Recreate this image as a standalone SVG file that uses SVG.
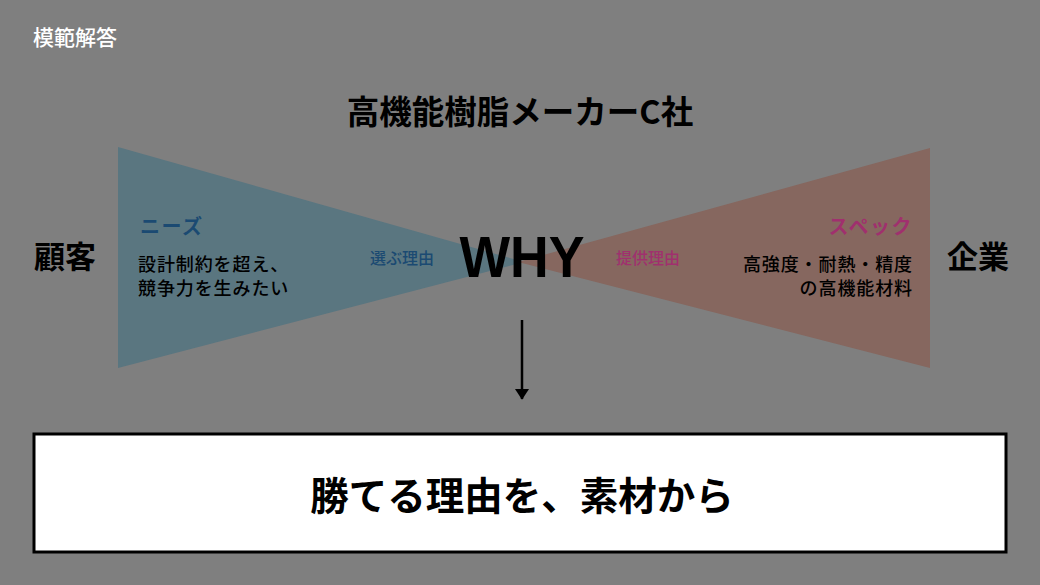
<svg xmlns="http://www.w3.org/2000/svg" width="1040" height="585" viewBox="0 0 1040 585">
<defs>
<style>
.jp{font-family:"Noto Sans CJK JP","Noto Sans",sans-serif;}
.b{font-weight:bold;}
.blk{fill:#000;}
</style>
<marker id="ah" markerWidth="18" markerHeight="14" refX="13" refY="9" orient="auto" markerUnits="userSpaceOnUse" viewBox="0 0 14 18">
<path d="M0,0 L14,9 L0,18 z" fill="#000"/>
</marker>
</defs>
<rect x="0" y="0" width="1040" height="585" fill="#7f7f7f"/>
<text class="jp" x="33" y="45" font-size="21" font-weight="500" fill="#fff">模範解答</text>
<text class="jp b blk" x="520" y="124" font-size="32.5" text-anchor="middle">高機能樹脂メーカーC社</text>
<g id="customer-wedge">
<polygon points="118,147 118,368 524,262" fill="#5a7680"/>
<text class="jp b" x="140" y="234" font-size="20" letter-spacing="1.5" fill="#1b4a72">ニーズ</text>
<text class="jp blk" font-size="18" letter-spacing="0.9" font-weight="500"><tspan x="138" y="271">設計制約を超え、</tspan><tspan x="138" y="295">競争力を生みたい</tspan></text>
<text class="jp" x="402" y="264" font-size="16" font-weight="500" fill="#1b4a72" text-anchor="middle">選ぶ理由</text>
</g>
<g id="company-wedge">
<polygon points="930,148 930,368 518,262" fill="#86675f"/>
<text class="jp b" x="913" y="234" font-size="20" letter-spacing="1.5" fill="#a0306e" text-anchor="end">スペック</text>
<text class="jp blk" font-size="18" letter-spacing="0.9" font-weight="500" text-anchor="end"><tspan x="913" y="271">高強度・耐熱・精度</tspan><tspan x="913" y="295">の高機能材料</tspan></text>
<text class="jp" x="648" y="264" font-size="16" font-weight="500" fill="#a0306e" text-anchor="middle">提供理由</text>
</g>
<g id="customer">
<text class="jp b blk" x="65" y="268" font-size="31" text-anchor="middle">顧客</text>
</g>
<g id="company">
<text class="jp b blk" x="978" y="268" font-size="31" text-anchor="middle">企業</text>
</g>
<g id="why">
<text x="522" y="277" font-family="Liberation Sans, Arial, sans-serif" font-weight="bold" font-size="57" text-anchor="middle" textLength="125" lengthAdjust="spacingAndGlyphs" fill="#000">WHY</text>
</g>
<g id="connectors">
<line x1="522" y1="320" x2="522" y2="399" stroke="#000" stroke-width="2.5" marker-end="url(#ah)"/>
</g>
<g id="result">
<rect x="34" y="434" width="972" height="118" fill="#fff" stroke="#000" stroke-width="3"/>
<text class="jp b blk" x="522" y="510" font-size="38.5" text-anchor="middle">勝てる理由を、素材から</text>
</g>
</svg>
